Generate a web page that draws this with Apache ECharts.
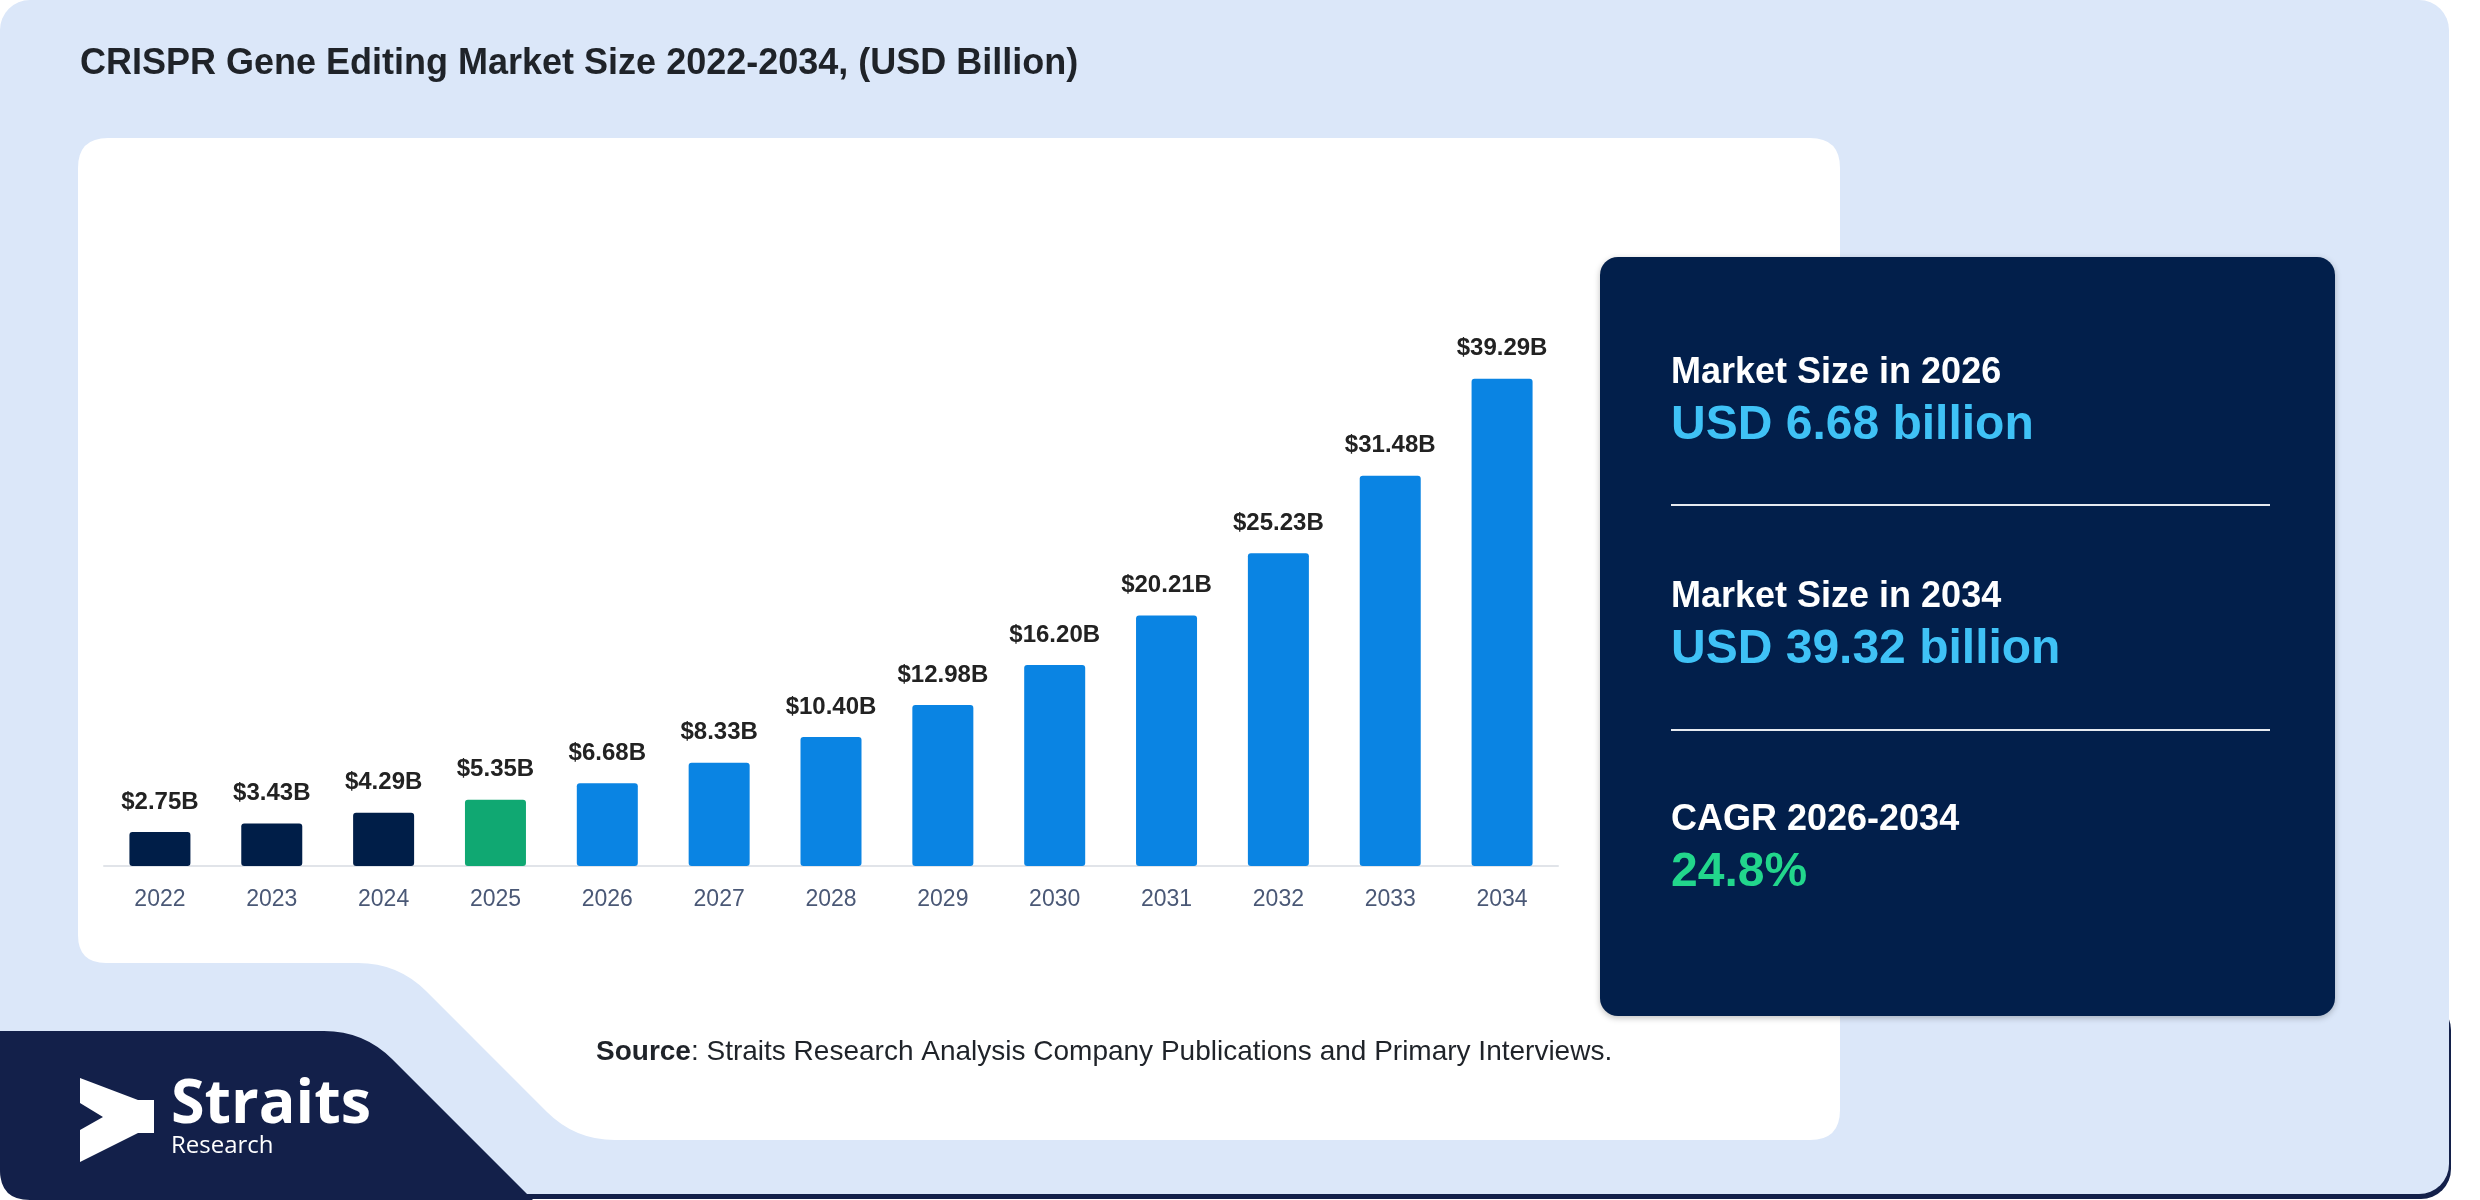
<!DOCTYPE html>
<html>
<head>
<meta charset="utf-8">
<script src="https://cdn.jsdelivr.net/npm/echarts@6/dist/echarts.min.js"></script>
<style>
html,body{margin:0;padding:0;background:#ffffff;}
#c{width:2480px;height:1200px;}
</style>
</head>
<body>
<div id="c"></div>
<script>
// ---- data ----
const years = ['2022','2023','2024','2025','2026','2027','2028','2029','2030','2031','2032','2033','2034'];
const marketSize = [2.75, 3.43, 4.29, 5.35, 6.68, 8.33, 10.40, 12.98, 16.20, 20.21, 25.23, 31.48, 39.29];
const barColors = ['#001e48','#001e48','#001e48','#10a872','#0a84e3','#0a84e3','#0a84e3','#0a84e3','#0a84e3','#0a84e3','#0a84e3','#0a84e3','#0a84e3'];
const titleText = 'CRISPR Gene Editing Market Size 2022-2034, (USD Billion)';
const stats = [
  { label: 'Market Size in 2026', value: 'USD 6.68 billion', color: '#3fc2f6' },
  { label: 'Market Size in 2034', value: 'USD 39.32 billion', color: '#3fc2f6' },
  { label: 'CAGR 2026-2034', value: '24.8%', color: '#22d68c' }
];

// ---- custom rounded polygon shape ----
const RoundPoly = echarts.graphic.extendShape({
  shape: { points: [], radii: [] },
  buildPath: function (ctx, shape) {
    const p = shape.points, r = shape.radii, n = p.length;
    for (let i = 0; i < n; i++) {
      const cur = p[i], prev = p[(i - 1 + n) % n], next = p[(i + 1) % n];
      const ri = r[i] || 0;
      const d1 = Math.hypot(prev[0] - cur[0], prev[1] - cur[1]);
      const d2 = Math.hypot(next[0] - cur[0], next[1] - cur[1]);
      const a = [cur[0] + (prev[0] - cur[0]) * ri / d1, cur[1] + (prev[1] - cur[1]) * ri / d1];
      const b = [cur[0] + (next[0] - cur[0]) * ri / d2, cur[1] + (next[1] - cur[1]) * ri / d2];
      if (i === 0) ctx.moveTo(a[0], a[1]); else ctx.lineTo(a[0], a[1]);
      if (ri) ctx.quadraticCurveTo(cur[0], cur[1], b[0], b[1]);
    }
    ctx.closePath();
  }
});
echarts.graphic.registerShape('roundPoly', RoundPoly);

const chart = echarts.init(document.getElementById('c'), null, { renderer: 'canvas' });

const FONT = '"Liberation Sans", Arial, Helvetica, sans-serif';
function txt(x, y, text, size, color, weight, family) {
  return {
    type: 'text', z: 50, x: x, y: y,
    style: {
      text: text, fill: color,
      font: (weight || 'normal') + ' ' + size + 'px ' + (family || FONT),
      textAlign: 'left', textVerticalAlign: 'middle', verticalAlign: 'middle'
    }
  };
}

const graphics = [];
// bottom dark strip under outer background
graphics.push({ type: 'rect', z: -20, shape: { x: 0, y: 1000, width: 2451, height: 199, r: 30 }, style: { fill: '#13204a' } });
// outer light-blue background
graphics.push({ type: 'rect', z: -19, shape: { x: 0, y: 0, width: 2449, height: 1194, r: 30 }, style: { fill: '#dbe7f9' } });
// white chart card with notch
graphics.push({ type: 'roundPoly', z: -18,
  shape: { points: [[78,138],[1840,138],[1840,1140],[575,1140],[398,963],[78,963]], radii: [30,30,30,40,40,28] },
  style: { fill: '#ffffff' } });
// navy logo block
graphics.push({ type: 'roundPoly', z: -17,
  shape: { points: [[0,1031],[364,1031],[533,1200],[0,1200]], radii: [0,40,0,30] },
  style: { fill: '#13204a' } });
// logo mark
graphics.push({ type: 'polygon', z: 40,
  shape: { points: [[80,1078],[138,1100],[154,1100],[154,1133],[138,1133],[80,1162],[80,1130],[103,1117],[80,1103]] },
  style: { fill: '#ffffff' } });
graphics.push(txt(171, 1106, 'Straits', 61, '#ffffff', 'bold', '"Open Sans", sans-serif'));
graphics.push(txt(171, 1146, 'Research', 24, '#ffffff', 'normal', '"Open Sans", sans-serif'));
// title
graphics.push(txt(80, 64.5, titleText, 36, '#1f2329', 'bold'));
// source
graphics.push({
  type: 'text', z: 50, x: 596, y: 1052,
  style: {
    text: '{b|Source}: Straits Research Analysis Company Publications and Primary Interviews.',
    font: 'normal 28px ' + FONT, fill: '#1f2329', verticalAlign: 'middle', textVerticalAlign: 'middle',
    rich: { b: { fontWeight: 'bold', fontSize: 28, fontFamily: FONT, fill: '#1f2329' } }
  }
});
// info panel
graphics.push({ type: 'rect', z: -5, shape: { x: 1600, y: 257, width: 735, height: 759, r: 18 },
  style: { fill: '#021f4b', shadowBlur: 6, shadowColor: 'rgba(0,0,0,0.25)', shadowOffsetY: 2 } });
const blockY = [386, 610, 833];
stats.forEach(function (s, i) {
  graphics.push(txt(1671, blockY[i] - 12.5, s.label, 36, '#ffffff', 'bold'));
  graphics.push(txt(1671, blockY[i] + 56 - 16.6, s.value, 48, s.color, 'bold'));
});
[505, 730].forEach(function (y) {
  graphics.push({ type: 'line', z: 50, shape: { x1: 1671, y1: y, x2: 2270, y2: y }, style: { stroke: '#e6eaf0', lineWidth: 2 } });
});

chart.setOption({
  animation: false,
  backgroundColor: 'transparent',
  graphic: { elements: graphics },
  grid: { left: 104, right: 922, top: 370, bottom: 334, containLabel: false },
  xAxis: {
    type: 'category',
    data: years,
    axisLine: { show: true, lineStyle: { color: '#e1e4e9', width: 2 } },
    axisTick: { show: false },
    axisLabel: { color: '#4a5876', fontSize: 23, fontFamily: FONT, margin: 22 }
  },
  yAxis: { type: 'value', min: 0, max: 40, show: false, splitLine: { show: false } },
  series: [{
    type: 'bar',
    barWidth: 61,
    data: marketSize.map(function (v, i) { return { value: v, itemStyle: { color: barColors[i] } }; }),
    itemStyle: { borderRadius: 3 },
    label: {
      show: true, position: 'top', distance: 18,
      color: '#222222', fontSize: 24, fontWeight: 'bold', fontFamily: FONT,
      formatter: function (p) { return '$' + p.value.toFixed(2) + 'B'; }
    }
  }]
});
</script>
</body>
</html>
